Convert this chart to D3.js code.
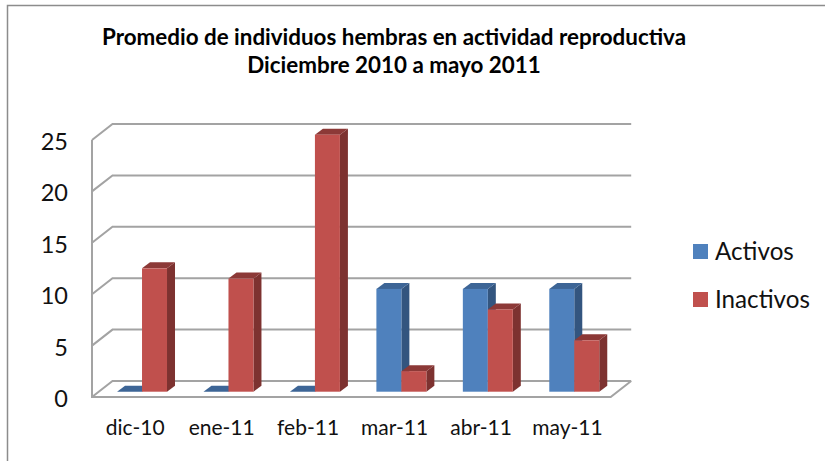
<!DOCTYPE html>
<html>
<head>
<meta charset="utf-8">
<script src="https://d3js.org/d3.v7.min.js"></script>
<style>
    html, body { margin: 0; padding: 0; background: white; }
    svg { display: block; }
    text { font-family: Lato, sans-serif; fill: #111; }
    .title { font-size: 22.4px; font-weight: bold; fill: #000; }
    .yAxis text { font-size: 23.5px; }
    .xAxis text { font-size: 21px; }
    .legend text { font-size: 24.2px; }
</style>
</head>
<body>
<svg width="825" height="461"></svg>
<script>
var months = ["dic-10", "ene-11", "feb-11", "mar-11", "abr-11", "may-11"];
var seriesNames = ["Activos", "Inactivos"];
var activos = [0, 0, 0, 10, 10, 10];
var inactivos = [12, 11, 25, 2, 8, 5];
var yTicks = [0, 5, 10, 15, 20, 25];
var titleLines = ["Promedio de individuos hembras en actividad reproductiva", "Diciembre 2010 a mayo 2011"];

var faceColors = ["#4f81bd", "#c0504d"];
var sideColors = ["#33557f", "#7d3230"];
var topColors = ["#3d6596", "#8c3937"];
var gridColor = "#a3a3a3";

// front plane of the box
var left = 92, right = 610.7, top0 = 140, bottom = 397;
// depth of the box and of the bars
var wallDx = 20.5, wallDy = -16;
var barPlaneDx = 6.8, barPlaneDy = -5.3;
var barDx = 8, barDy = -6;

var svg = d3.select("svg");

var x = d3.scaleBand().domain(months).range([left, right]);
var sub = d3.scaleBand().domain(seriesNames).range([0, x.bandwidth()]).paddingOuter(0.73).paddingInner(0);
var y = d3.scaleLinear().domain([0, 25]).range([bottom, top0]);

// outer frame
svg.append("path")
    .attr("d", "M7.5,461V5.5H825")
    .attr("fill", "none")
    .attr("stroke", "#8c8c8c")
    .attr("stroke-width", 1.5);

// gridlines on the back wall + diagonal on the left wall
var grid = svg.append("g").attr("fill", "none").attr("stroke", gridColor).attr("stroke-width", 2);
yTicks.forEach(function(t) {
    grid.append("path").attr("d", d3.line()([
        [left, y(t)],
        [left + wallDx, y(t) + wallDy],
        [right + wallDx, y(t) + wallDy]
    ]));
});
// left wall edge and floor
grid.append("path").attr("d", d3.line()([
    [left, top0], [left, bottom], [right, bottom], [right + wallDx, bottom + wallDy]
]));

function poly(pts) { return d3.line()(pts) + "Z"; }

// bars, blue then red in each month
months.forEach(function(m, i) {
    [activos[i], inactivos[i]].forEach(function(v, s) {
        var x0 = x(m) + sub(seriesNames[s]) + barPlaneDx;
        var x1 = x0 + sub.bandwidth();
        var y0 = y(0) + barPlaneDy;
        var y1 = y(v) + barPlaneDy;
        var g = svg.append("g").attr("class", "bar");
        g.append("path").attr("d", poly([[x1, y0], [x1 + barDx, y0 + barDy], [x1 + barDx, y1 + barDy], [x1, y1]])).attr("fill", sideColors[s]);
        g.append("path").attr("d", poly([[x0, y1], [x0 + barDx, y1 + barDy], [x1 + barDx, y1 + barDy], [x1, y1]])).attr("fill", topColors[s]);
        g.append("rect").attr("x", x0).attr("y", y1).attr("width", x1 - x0).attr("height", y0 - y1).attr("fill", faceColors[s]);
    });
});

var yAxis = d3.axisLeft(y).tickValues(yTicks).tickSize(0).tickPadding(24);
svg.append("g").attr("class", "yAxis").attr("transform", "translate(" + left + ",2)").call(yAxis)
    .call(function(g) { g.select(".domain").remove(); });

var xAxis = d3.axisBottom(x).tickSize(0).tickPadding(23);
svg.append("g").attr("class", "xAxis").attr("transform", "translate(0," + bottom + ")").call(xAxis)
    .call(function(g) { g.select(".domain").remove(); });
svg.selectAll(".yAxis text, .xAxis text").attr("font-family", null).attr("fill", "#111");
svg.selectAll(".yAxis, .xAxis").attr("font-family", null).attr("font-size", null);

svg.selectAll(".title").data(titleLines).enter().append("text")
    .attr("class", "title")
    .attr("x", 394)
    .attr("y", function(d, i) { return 45 + i * 28; })
    .attr("text-anchor", "middle")
    .text(function(d) { return d; });

var legend = svg.append("g").attr("class", "legend");
var legendY = d3.scalePoint().domain(seriesNames).range([244, 292]);
seriesNames.forEach(function(name, i) {
    legend.append("rect").attr("x", 693).attr("y", legendY(name)).attr("width", 15).attr("height", 15).attr("fill", faceColors[i]);
    legend.append("text").attr("x", 715).attr("y", legendY(name) + 16).text(name);
});
</script>
</body>
</html>
